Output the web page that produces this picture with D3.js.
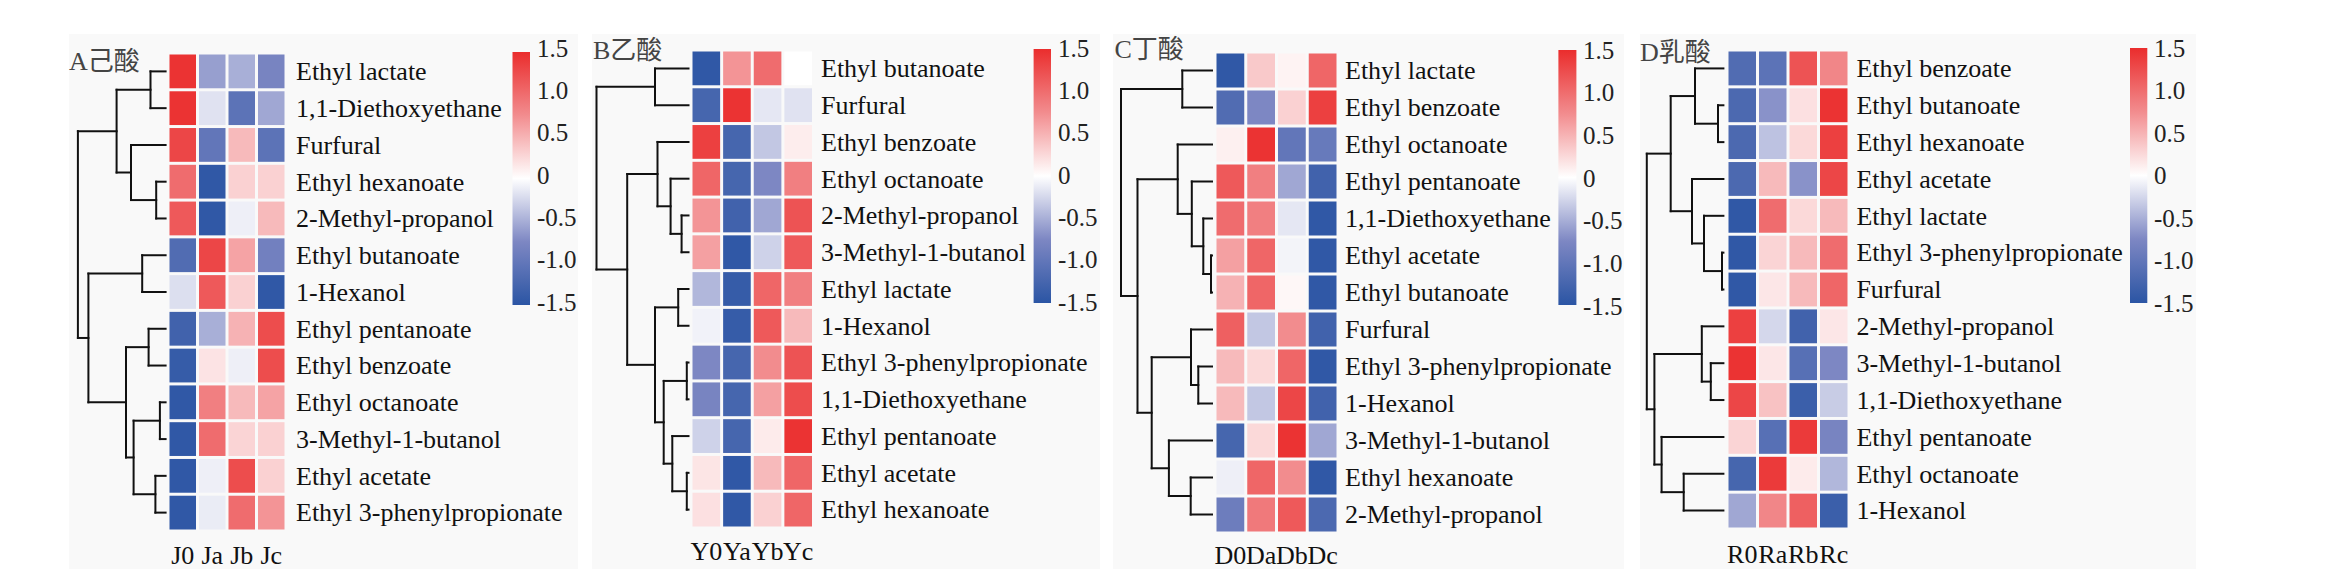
<!DOCTYPE html>
<html><head><meta charset="utf-8">
<script src="https://cdn.jsdelivr.net/npm/d3@7"></script>
<style>
body{margin:0;background:#fff;}
svg{display:block;}
text{font-family:"Liberation Serif","Times New Roman","Noto Sans CJK SC",serif;}
</style>
</head><body>
<svg id="chart" width="2347" height="580"></svg>
<script>
// ---------- DATA ----------
const titles = ["A己酸", "B乙酸", "C丁酸", "D乳酸"];
const colorTicks = [1.5, 1.0, 0.5, 0, -0.5, -1.0, -1.5];
const colorTickLabels = ["1.5", "1.0", "0.5", "0", "-0.5", "-1.0", "-1.5"];

const colsA = ["J0", "Ja", "Jb", "Jc"];
const rowsA = ["Ethyl lactate", "1,1-Diethoxyethane", "Furfural", "Ethyl hexanoate", "2-Methyl-propanol",
  "Ethyl butanoate", "1-Hexanol", "Ethyl pentanoate", "Ethyl benzoate", "Ethyl octanoate",
  "3-Methyl-1-butanol", "Ethyl acetate", "Ethyl 3-phenylpropionate"];
const valuesA = [
  [1.45, -0.6, -0.5, -0.8],
  [1.45, -0.18, -1.05, -0.55],
  [1.3, -1.0, 0.45, -1.05],
  [1.0, -1.45, 0.3, 0.3],
  [1.15, -1.45, -0.1, 0.45],
  [-1.15, 1.3, 0.6, -0.85],
  [-0.2, 1.15, 0.3, -1.45],
  [-1.3, -0.5, 0.5, 1.25],
  [-1.4, 0.18, -0.1, 1.25],
  [-1.45, 0.85, 0.45, 0.6],
  [-1.45, 1.0, 0.28, 0.3],
  [-1.45, -0.1, 1.25, 0.3],
  [-1.45, -0.12, 1.0, 0.7]];
// dendrogram: [mergeHeight, left, right], leaves = row index
const treeA = [87.7, [49, [15.1, 0, 1], [34.6, 2, [9.4, 3, 4]]],
  [77.2, [23.4, 5, 6], [39.6, [17, 7, 8], [32, [5.7, 9, 10], [10.2, 11, 12]]]]];

const colsB = ["Y0", "Ya", "Yb", "Yc"];
const rowsB = ["Ethyl butanoate", "Furfural", "Ethyl benzoate", "Ethyl octanoate", "2-Methyl-propanol",
  "3-Methyl-1-butanol", "Ethyl lactate", "1-Hexanol", "Ethyl 3-phenylpropionate", "1,1-Diethoxyethane",
  "Ethyl pentanoate", "Ethyl acetate", "Ethyl hexanoate"];
const valuesB = [
  [-1.45, 0.7, 1.0, 0.0],
  [-1.25, 1.45, -0.15, -0.18],
  [1.35, -1.25, -0.35, 0.12],
  [1.05, -1.25, -0.75, 0.85],
  [0.7, -1.3, -0.55, 1.2],
  [0.62, -1.45, -0.28, 1.15],
  [-0.45, -1.4, 1.05, 0.85],
  [-0.08, -1.4, 1.15, 0.45],
  [-0.75, -1.25, 0.75, 1.2],
  [-0.8, -1.25, 0.62, 1.25],
  [-0.28, -1.25, 0.13, 1.45],
  [0.17, -1.45, 0.45, 1.05],
  [0.2, -1.45, 0.3, 1.05]];
const treeB = [92, [33.5, 0, 1], [61.3, [31, 2, [17.9, 3, [6.9, 4, 5]]],
  [33.5, [10.3, 6, 7], [24.8, [1.7, 8, 9], [16.2, 10, [1.7, 11, 12]]]]]];

const colsC = ["D0", "Da", "Db", "Dc"];
const rowsC = ["Ethyl lactate", "Ethyl benzoate", "Ethyl octanoate", "Ethyl pentanoate", "1,1-Diethoxyethane",
  "Ethyl acetate", "Ethyl butanoate", "Furfural", "Ethyl 3-phenylpropionate", "1-Hexanol",
  "3-Methyl-1-butanol", "Ethyl hexanoate", "2-Methyl-propanol"];
const valuesC = [
  [-1.45, 0.35, 0.08, 1.05],
  [-1.15, -0.75, 0.3, 1.35],
  [0.1, 1.45, -1.0, -0.95],
  [1.15, 0.85, -0.55, -1.3],
  [1.0, 0.85, -0.15, -1.45],
  [0.62, 1.05, -0.07, -1.45],
  [0.5, 1.05, 0.05, -1.45],
  [1.1, -0.35, 0.75, -1.3],
  [0.45, 0.25, 1.05, -1.45],
  [0.45, -0.35, 1.3, -1.3],
  [-1.25, 0.25, 1.45, -0.55],
  [-0.1, 1.05, 0.75, -1.45],
  [-0.9, 0.9, 1.15, -1.2]];
const treeC = [91, [29.7, 0, 1], [74.5, [34.3, 2, [20.2, 3, [8.7, 4, [1, 5, 6]]]],
  [60.3, [21, 7, [13.7, 8, 9]], [43.1, 10, [21.3, 11, 12]]]]];

const colsD = ["R0", "Ra", "Rb", "Rc"];
const rowsD = ["Ethyl benzoate", "Ethyl butanoate", "Ethyl hexanoate", "Ethyl acetate", "Ethyl lactate",
  "Ethyl 3-phenylpropionate", "Furfural", "2-Methyl-propanol", "3-Methyl-1-butanol", "1,1-Diethoxyethane",
  "Ethyl pentanoate", "Ethyl octanoate", "1-Hexanol"];
const valuesD = [
  [-1.15, -1.05, 1.2, 0.8],
  [-1.2, -0.68, 0.2, 1.45],
  [-1.2, -0.38, 0.25, 1.35],
  [-1.2, 0.45, -0.68, 1.3],
  [-1.45, 1.0, 0.25, 0.45],
  [-1.45, 0.28, 0.45, 1.0],
  [-1.45, 0.16, 0.45, 1.05],
  [1.35, -0.25, -1.3, 0.16],
  [1.45, 0.16, -1.1, -0.75],
  [1.3, 0.4, -1.35, -0.32],
  [0.28, -1.1, 1.4, -0.8],
  [-1.25, 1.4, 0.13, -0.45],
  [-0.55, 0.8, 1.1, -1.35]];
const treeD = [76.6, [52.7, [28.4, 0, [5.4, 1, 2]], [31.4, 3, [19.4, 4, [1.4, 5, 6]]]],
  [69, [21.6, 7, [12.6, 8, 9]], [61.8, 10, [39.7, 11, 12]]]];

// ---------- LAYOUT ----------
const layouts = [
  {bg: [69, 578], title: [69, 61], cells: [168, 286, 53, 531], leafEnd: 165.6, label: 296,
   cbar: [512.5, 530, 52, 305], tick: 537, tickY: [302, 48], colLabelY: 555},
  {bg: [592, 1100], title: [593, 50], cells: [691, 813.5, 50, 528], leafEnd: 688.5, label: 821,
   cbar: [1033.6, 1051, 49, 303], tick: 1058, tickY: [302, 48], colLabelY: 551},
  {bg: [1113, 1624], title: [1114.5, 49], cells: [1215, 1338, 52, 533], leafEnd: 1212, label: 1345,
   cbar: [1558.4, 1576.4, 50, 305], tick: 1583, tickY: [306, 50], colLabelY: 555},
  {bg: [1640, 2196], title: [1640, 52], cells: [1727, 1849, 50, 529], leafEnd: 1723.4, label: 1856.4,
   cbar: [2130, 2147.3, 48, 303], tick: 2154, tickY: [303, 48], colLabelY: 554}
];
const panels = [
  {cols: colsA, rows: rowsA, values: valuesA, tree: treeA},
  {cols: colsB, rows: rowsB, values: valuesB, tree: treeB},
  {cols: colsC, rows: rowsC, values: valuesC, tree: treeC},
  {cols: colsD, rows: rowsD, values: valuesD, tree: treeD}
];

const color = d3.scaleLinear()
  .domain([-1.5, -0.75, 0, 0.75, 1.5])
  .range(["#2b55a4", "#7d87c3", "#ffffff", "#f28c8e", "#ea2d2d"])
  .clamp(true);

const svg = d3.select("#chart");
const defs = svg.append("defs");
const grad = defs.append("linearGradient").attr("id", "cbar")
  .attr("x1", 0).attr("y1", 1).attr("x2", 0).attr("y2", 0);
d3.range(0, 1.0001, 0.05).forEach(t => {
  grad.append("stop").attr("offset", t).attr("stop-color", color(-1.5 + 3 * t));
});

panels.forEach((p, i) => {
  const L = layouts[i];
  const g = svg.append("g");
  g.append("rect").attr("x", L.bg[0]).attr("y", 34).attr("width", L.bg[1] - L.bg[0]).attr("height", 535)
    .attr("fill", "#f9f9f9");

  g.append("text").attr("x", L.title[0]).attr("y", L.title[1]).attr("dy", "0.36em")
    .attr("font-size", 26).attr("fill", "#444").text(titles[i]);

  const xS = d3.scaleBand().domain(p.cols).range([L.cells[0], L.cells[1]]);
  const yS = d3.scaleBand().domain(d3.range(p.rows.length)).range([L.cells[2], L.cells[3]]);

  const cells = [];
  p.values.forEach((row, r) => row.forEach((v, c) => cells.push({r, c, v})));
  g.selectAll("rect.cell").data(cells).enter().append("rect").attr("class", "cell")
    .attr("x", d => xS(p.cols[d.c]) + 1.5)
    .attr("y", d => yS(d.r) + 1.5)
    .attr("width", xS.bandwidth() - 3)
    .attr("height", yS.bandwidth() - 3)
    .attr("fill", d => color(d.v));

  g.selectAll("text.row").data(p.rows).enter().append("text").attr("class", "row")
    .attr("x", L.label).attr("y", (d, r) => yS(r) + yS.bandwidth() / 2).attr("dy", "0.34em")
    .attr("font-size", 26).attr("fill", "#111").text(d => d);

  g.selectAll("text.col").data(p.cols).enter().append("text").attr("class", "col")
    .attr("x", d => xS(d) + xS.bandwidth() / 2).attr("y", L.colLabelY).attr("dy", "0.34em")
    .attr("text-anchor", "middle").attr("font-size", 26).attr("fill", "#111").text(d => d);

  // dendrogram
  const hx = d3.scaleLinear().domain([0, 100]).range([L.leafEnd, L.leafEnd - 100]);
  const segs = [];
  function walk(node) {
    if (typeof node === "number") return {x: L.leafEnd, y: yS(node) + yS.bandwidth() / 2};
    const a = walk(node[1]), b = walk(node[2]);
    const x = hx(node[0]);
    segs.push([x, a.y, x, b.y]);
    segs.push([x, a.y, a.x, a.y]);
    segs.push([x, b.y, b.x, b.y]);
    return {x, y: (a.y + b.y) / 2};
  }
  walk(p.tree);
  g.selectAll("line.dend").data(segs).enter().append("line").attr("class", "dend")
    .attr("x1", d => d[0]).attr("y1", d => d[1]).attr("x2", d => d[2]).attr("y2", d => d[3])
    .attr("stroke", "#111").attr("stroke-width", 2).attr("stroke-linecap", "square");

  // colour bar
  g.append("rect").attr("x", L.cbar[0]).attr("y", L.cbar[2])
    .attr("width", L.cbar[1] - L.cbar[0]).attr("height", L.cbar[3] - L.cbar[2])
    .attr("fill", "url(#cbar)");
  const tY = d3.scaleLinear().domain([-1.5, 1.5]).range(L.tickY);
  g.selectAll("text.tick").data(colorTicks).enter().append("text").attr("class", "tick")
    .attr("x", L.tick).attr("y", d => tY(d)).attr("dy", "0.34em")
    .attr("font-size", 25).attr("fill", "#222").text((d, k) => colorTickLabels[k]);
});
</script>
</body></html>
